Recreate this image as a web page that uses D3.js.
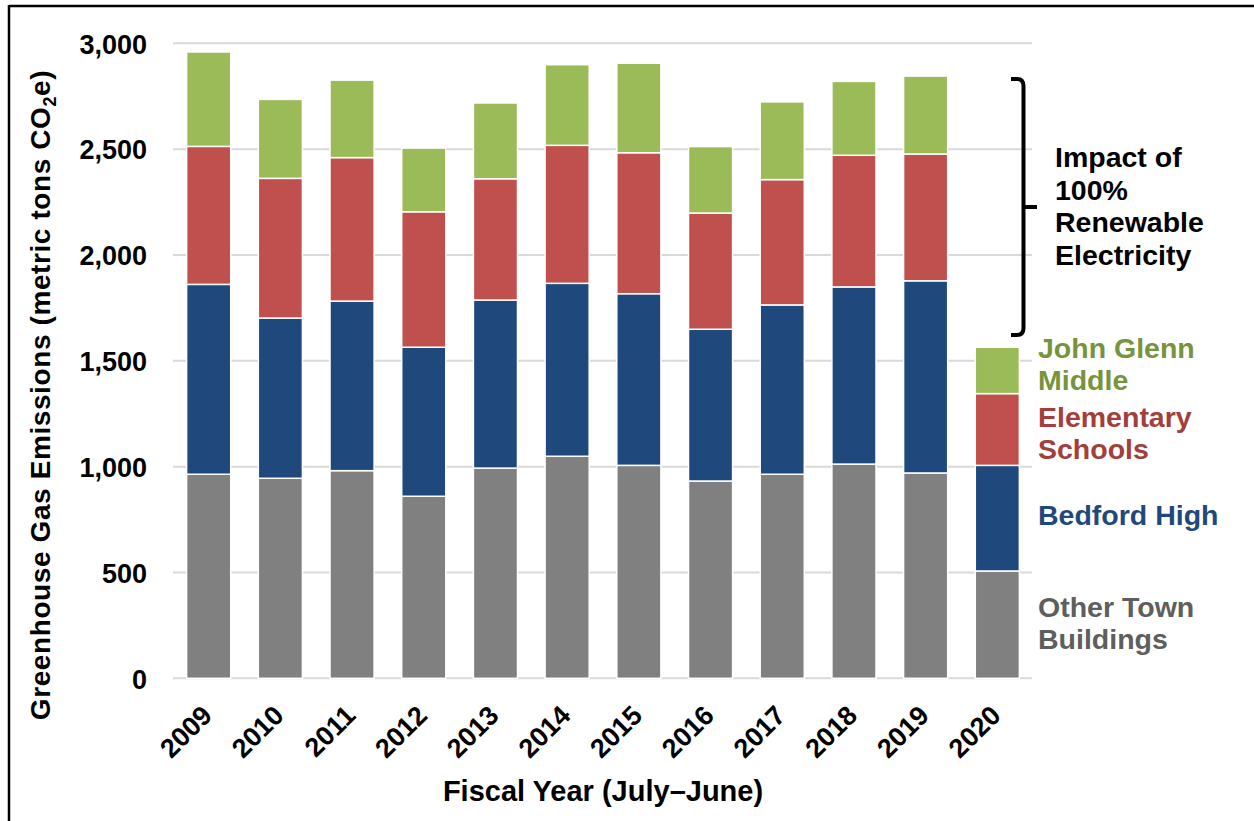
<!DOCTYPE html>
<html>
<head>
<meta charset="utf-8">
<script src="https://cdn.jsdelivr.net/npm/d3@7"></script>
<style>
  html, body { margin: 0; padding: 0; background: #fff; }
  svg { display: block; }
  text { font-family: "Liberation Sans", Arial, Helvetica, sans-serif; font-weight: bold; }
</style>
</head>
<body>
<svg id="chart" width="1254" height="821"></svg>
<script>
// Fiscal years and emissions (metric tons CO2e) by building group
const years = ["2009","2010","2011","2012","2013","2014","2015","2016","2017","2018","2019","2020"];
const otherTown   = [964, 945, 981, 860, 993, 1049, 1006, 932, 964, 1012, 970, 507];
const bedfordHigh = [897, 757, 801, 704, 794, 817, 811, 717, 800, 837, 908, 499];
const elementary  = [652, 660, 678, 640, 573, 652, 666, 549, 592, 622, 599, 339];
const johnGlenn   = [446, 373, 366, 301, 358, 381, 423, 314, 367, 349, 368, 219];
const yTicks = [0, 500, 1000, 1500, 2000, 2500, 3000];

const seriesKeys = ["other", "high", "elem", "middle"];
const barColors  = { other: "#808080", high: "#1F497D", elem: "#C0504D", middle: "#9BBB59" };

const rows = years.map((y, i) => ({
  year: y, other: otherTown[i], high: bedfordHigh[i], elem: elementary[i], middle: johnGlenn[i]
}));

const svg = d3.select("#chart");
const margin = { left: 173, right: 221, top: 43.3, bottom: 142.7 };
const W = 1254, H = 821;

const x = d3.scaleBand().domain(years).range([margin.left, W - margin.right]).paddingInner(0.385).paddingOuter(0.19);
const y = d3.scaleLinear().domain([0, 3000]).range([H - margin.bottom, margin.top]);

// frame lines
svg.append("line").attr("x1", 9).attr("x2", W).attr("y1", 6).attr("y2", 6)
  .attr("stroke", "#000").attr("stroke-width", 2.5);
svg.append("line").attr("x1", 9).attr("x2", 9).attr("y1", 5).attr("y2", H)
  .attr("stroke", "#000").attr("stroke-width", 2.5);

// gridlines
svg.append("g").selectAll("line").data(yTicks).join("line")
  .attr("x1", margin.left).attr("x2", 1032)
  .attr("y1", d => y(d)).attr("y2", d => y(d))
  .attr("stroke", "#D9D9D9").attr("stroke-width", 2);

// y axis tick labels
const yAxis = d3.axisLeft(y).tickValues(yTicks).tickFormat(d3.format(",")).tickSize(0).tickPadding(0);
const yg = svg.append("g").attr("transform", "translate(147,0)").call(yAxis);
yg.select(".domain").remove();
yg.selectAll("text").attr("font-size", 27).attr("fill", "#000")
  .attr("font-family", '"Liberation Sans", Arial, sans-serif').attr("font-weight", "bold")
  .attr("dy", "0.36em");

// stacked bars
const stack = d3.stack().keys(seriesKeys)(rows);
svg.append("g").selectAll("g").data(stack).join("g")
  .attr("fill", d => barColors[d.key])
  .selectAll("rect").data(d => d).join("rect")
  .attr("x", d => x(d.data.year))
  .attr("width", x.bandwidth())
  .attr("y", d => y(d[1]))
  .attr("height", d => y(d[0]) - y(d[1]))
  .attr("stroke", "#fff").attr("stroke-width", 1.5);

// x axis year labels
const xAxis = d3.axisBottom(x).tickSize(0).tickPadding(0);
const xg = svg.append("g").call(xAxis);
xg.select(".domain").remove();
xg.selectAll(".tick").attr("transform", d => `translate(${x(d) + x.bandwidth() / 2 + 5},717)`);
xg.selectAll("text")
  .attr("font-size", 27).attr("fill", "#000")
  .attr("font-family", '"Liberation Sans", Arial, sans-serif').attr("font-weight", "bold")
  .attr("text-anchor", "end").attr("y", 0).attr("dy", 0)
  .attr("transform", "rotate(-45)");

// axis titles
svg.append("text").attr("x", 603).attr("y", 801).attr("text-anchor", "middle")
  .attr("font-size", 29).attr("fill", "#000").text("Fiscal Year (July–June)");

const yTitle = svg.append("text").attr("transform", "translate(49.5,395) rotate(-90)")
  .attr("text-anchor", "middle").attr("font-size", 28).attr("fill", "#000")
  .attr("letter-spacing", 0.6);
yTitle.append("tspan").text("Greenhouse Gas Emissions (metric tons CO");
yTitle.append("tspan").attr("font-size", 18).attr("dy", 6).text("2");
yTitle.append("tspan").attr("dy", -6).text("e)");

// series labels beside the 2020 bar
const seriesLabels = [
  { lines: ["John Glenn", "Middle"], y: 358, color: "#77933C" },
  { lines: ["Elementary", "Schools"], y: 427, color: "#A33E3B" },
  { lines: ["Bedford High"], y: 525, color: "#1F497D" },
  { lines: ["Other Town", "Buildings"], y: 617, color: "#5E5E5E" }
];
seriesLabels.forEach(s => {
  const t = svg.append("text").attr("x", 1038).attr("y", s.y).attr("font-size", 28.5).attr("fill", s.color);
  s.lines.forEach((ln, i) => t.append("tspan").attr("x", 1038).attr("dy", i === 0 ? 0 : 32).text(ln));
});

// bracket spanning the electricity share
svg.append("path")
  .attr("d", "M1011,79 H1017 Q1023.5,79 1023.5,86 V328 Q1023.5,335 1017,335 H1011 M1023.5,207 H1037")
  .attr("fill", "none").attr("stroke", "#000").attr("stroke-width", 4);

const note = svg.append("text").attr("x", 1055).attr("y", 167).attr("font-size", 28.5).attr("fill", "#000");
["Impact of", "100%", "Renewable", "Electricity"].forEach((ln, i) =>
  note.append("tspan").attr("x", 1055).attr("dy", i === 0 ? 0 : 32.5).text(ln));
</script>
</body>
</html>
